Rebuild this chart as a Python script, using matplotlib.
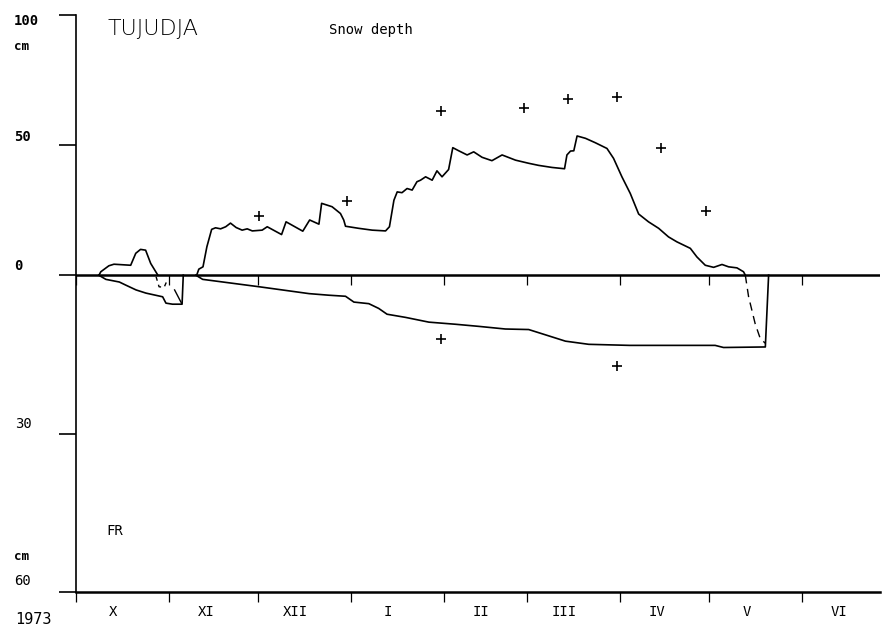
import numpy as np
import matplotlib.pyplot as plt

# days counted from 1 October 1973
month_labels = ['X', 'XI', 'XII', 'I', 'II', 'III', 'IV', 'V', 'VI']
month_days = [31, 30, 31, 31, 28, 31, 30, 31, 30]

# early snow cover in October
snow1_day = [7.7, 8.3, 11.0, 12.7, 18.3, 20.0, 21.6, 23.3, 25.0, 26.7, 27.4]
snow1_cm = [0, 1.3, 3.6, 4.2, 3.8, 8.4, 9.9, 9.6, 4.5, 1.3, 0]

# main snow cover
snow_day = [40.4, 41.1, 42.5, 43.8, 45.4, 46.7, 48.4, 50.1, 51.7, 53.6, 55.6, 57.3,
            59.0, 62.3, 64.0, 68.8, 70.3, 75.9, 78.2, 81.3, 82.2, 85.7, 88.5, 89.6,
            90.2, 94.6, 99.1, 103.6, 104.9, 106.4, 107.5, 109.1, 110.8, 112.5, 114.1,
            115.3, 117.0, 119.2, 120.8, 122.5, 124.7, 126.1, 128.1, 130.9, 133.1,
            135.9, 139.2, 142.6, 147.1, 151.5, 154.8, 159.3, 163.5, 164.3, 165.5,
            166.6, 167.7, 170.5, 173.8, 177.7, 179.9, 182.7, 185.5, 188.3, 191.6,
            195.0, 198.3, 201.1, 205.6, 207.8, 210.6, 213.4, 216.2, 218.4, 221.2,
            223.4, 224.0]
snow_cm = [0, 2.3, 3.2, 10.9, 17.6, 18.2, 17.8, 18.6, 20.0, 18.3, 17.3, 17.8,
           17.0, 17.3, 18.6, 15.6, 20.5, 16.9, 21.2, 19.6, 27.6, 26.3, 23.7, 21.2,
           18.8, 18.0, 17.3, 17.0, 18.6, 28.8, 32.0, 31.7, 33.3, 32.7, 35.9,
           36.5, 37.8, 36.5, 40.1, 37.8, 40.6, 49.0, 47.8, 46.2, 47.4,
           45.3, 44.0, 46.2, 44.2, 43.0, 42.2, 41.4, 40.9, 46.2, 47.7,
           47.8, 53.5, 52.6, 50.9, 48.7, 44.9, 37.8, 31.4, 23.5, 20.5,
           18.0, 14.7, 12.8, 10.3, 7.0, 3.8, 3.0, 4.1, 3.2, 2.8,
           1.3, 0]

# manual snow measurements (+)
snow_pt_day = [61.3, 90.6, 122.0, 150.1, 164.8, 180.9, 195.9, 210.9]
snow_pt_cm = [22.7, 28.5, 63.2, 64.4, 67.7, 68.6, 48.8, 24.7]

# frost depth, cm
frost1_day = [7.6, 10.0, 14.5, 16.7, 20.1, 23.4, 29.0, 30.1, 32.3, 35.5, 35.9]
frost1_cm = [0, 0.8, 1.3, 1.9, 2.8, 3.4, 4.1, 5.3, 5.5, 5.5, 0]

frost_day = [40.1, 42.4, 61.3, 78.0, 84.6, 90.2, 93.0, 98.0, 101.3, 104.1, 110.3,
             118.1, 127.0, 134.8, 143.7, 151.5, 157.1, 163.8, 171.6, 185.3, 196.1,
             213.9, 216.7, 230.7, 231.8]
frost_cm = [0, 0.8, 2.2, 3.5, 3.8, 4.0, 5.1, 5.4, 6.3, 7.4, 8.0,
            8.9, 9.3, 9.7, 10.2, 10.3, 11.3, 12.5, 13.1, 13.3, 13.3,
            13.3, 13.7, 13.6, 0]

# thawing from the surface (dashed)
thaw_day = [224.0, 225.1, 227.3, 229.0, 230.7]
thaw_cm = [0, 4.1, 9.2, 12.0, 12.9]
thaw1_day = [26.8, 27.8, 29.5, 30.5]
thaw1_cm = [0.3, 2.2, 2.3, 1.0]
thaw2_day = [33.0, 35.3]
thaw2_cm = [2.8, 5.3]

frost_pt_day = [122.3, 181.2]
frost_pt_cm = [12.1, 17.2]

frost_scale = 2.03   # frost axis is drawn at a larger scale than snow
W, H = 882, 632


def fr(v):
    return -frost_scale * np.asarray(v)


fig = plt.figure(figsize=(W / 100, H / 100), dpi=100)
ax = fig.add_axes([76 / W, 1 - 592 / H, (880 - 76) / W, (592 - 15) / H])

lw = 1.2
ax.plot(snow1_day, snow1_cm, color='black', lw=lw)
ax.plot(snow_day, snow_cm, color='black', lw=lw)
ax.plot(frost1_day, fr(frost1_cm), color='black', lw=lw)
ax.plot(frost_day, fr(frost_cm), color='black', lw=lw)
ax.plot(thaw_day, fr(thaw_cm), color='black', lw=1.0, ls=(0, (6, 4)))
ax.plot(thaw1_day, fr(thaw1_cm), color='black', lw=1.0, ls=(0, (3, 3)))
ax.plot(thaw2_day, fr(thaw2_cm), color='black', lw=1.0)
ax.plot(snow_pt_day, snow_pt_cm, '+', color='black', ms=7, mew=1.2)
ax.plot(frost_pt_day, fr(frost_pt_cm), '+', color='black', ms=7, mew=1.2)

# month starts (the end of June lies outside the plot)
starts = np.concatenate([[0], np.cumsum(month_days)[:-1]])
ax.axhline(0, color='black', lw=1.8)
ax.vlines(starts, -3.8, 0, color='black', lw=0.9)

ax.set_xlim(0, (880 - 76) / 2.988)
ax.set_ylim(fr(60), 100)

for s in ['top', 'right']:
    ax.spines[s].set_visible(False)
ax.spines['left'].set_linewidth(1.2)
ax.spines['bottom'].set_linewidth(1.8)

ax.set_yticks([100, 50, 0, fr(30), fr(60)])
ax.set_yticklabels([])
ax.tick_params(axis='y', direction='out', length=12, width=1.2)

ax.set_xticks(starts)
ax.set_xticklabels([])
ax.tick_params(axis='x', which='major', direction='out', length=7, width=0.9)
ax.set_xticks(starts + 12.5, minor=True)
ax.set_xticklabels(month_labels, minor=True, fontsize=10, family='DejaVu Sans Mono')
ax.tick_params(axis='x', which='minor', length=0, pad=9)

mono = dict(family='DejaVu Sans Mono', fontsize=10, va='center', ha='left')


def ftext(x, y, s, **kw):
    opts = dict(mono)
    opts.update(kw)
    fig.text(x / W, 1 - y / H, s, **opts)


ftext(14, 21, '100', weight='bold')
ftext(14, 47, 'cm', weight='bold', fontsize=9)
ftext(14, 137, '50', weight='bold')
ftext(14, 266, '0', weight='bold')
ftext(15, 424, '30')
ftext(14, 556, 'cm', weight='bold', fontsize=9)
ftext(14, 581, '60')
ftext(15, 620, '1973', fontsize=11)
ftext(107, 29, 'TUJUDJA', fontsize=16, family='DejaVu Sans', weight='light')
ftext(329, 30, 'Snow depth', fontsize=10)
ftext(106, 531, 'FR', fontsize=10)

fig.savefig('out.png', dpi=100, facecolor='white')
